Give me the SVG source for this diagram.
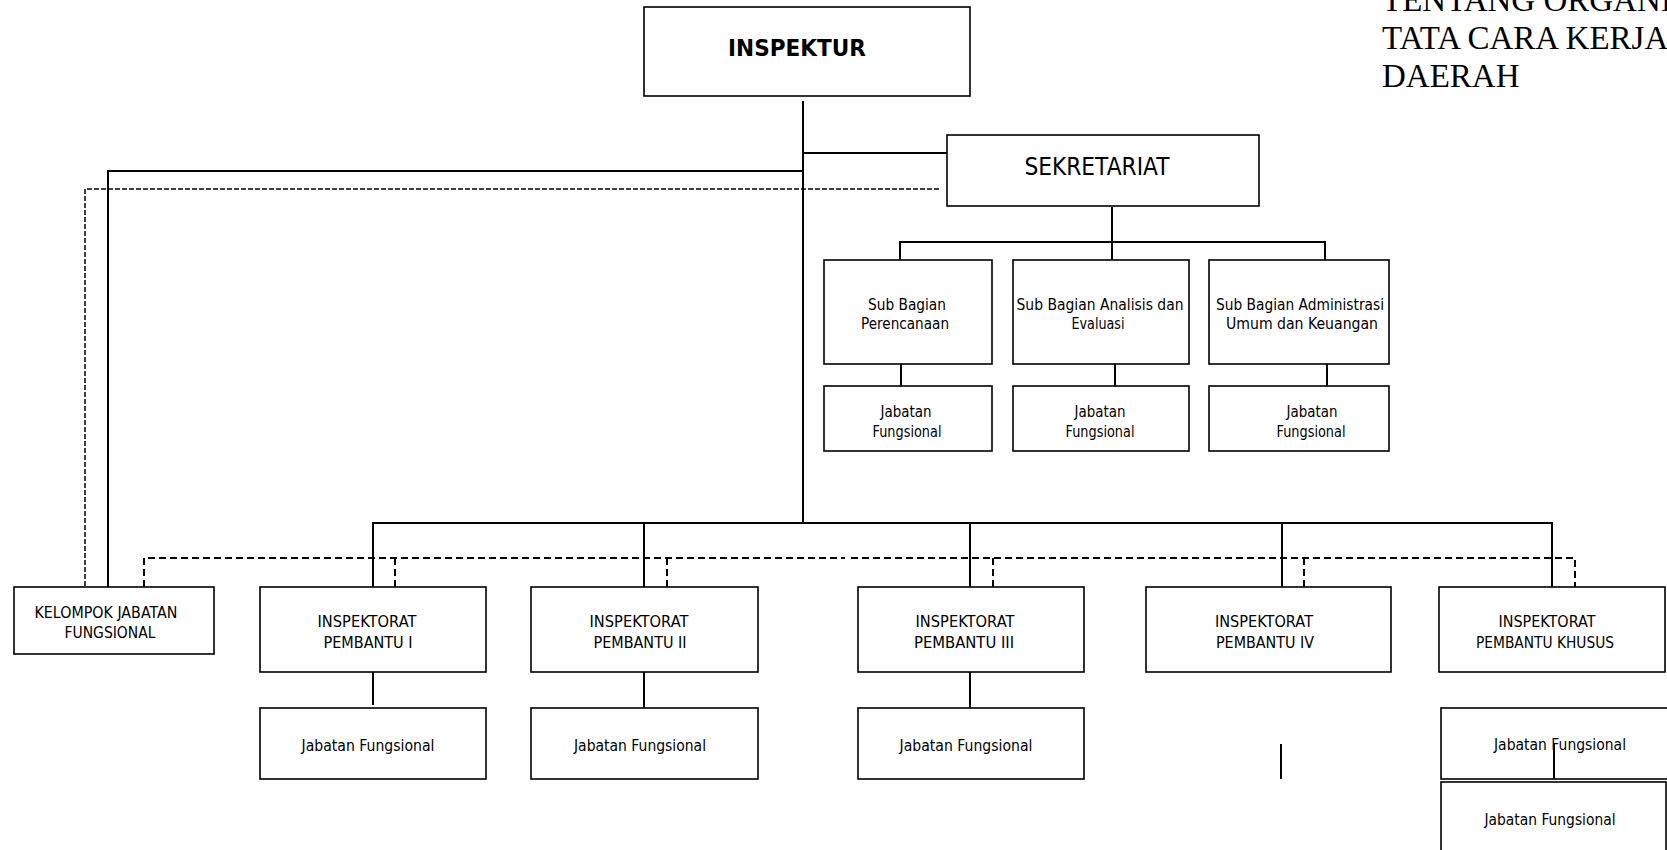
<svg xmlns="http://www.w3.org/2000/svg" width="1667" height="850" viewBox="0 0 1667 850">
<style>
.bx{fill:#fff;stroke:#000;stroke-width:1.6}
.ln{stroke:#000;stroke-width:2;fill:none}
.dl{stroke:#000;stroke-width:2;stroke-dasharray:7 4;fill:none}
.dt{stroke:#000;stroke-width:1.5;stroke-dasharray:5 2;fill:none}
.t{font-family:"DejaVu Sans",sans-serif;font-size:16px;fill:#000;text-anchor:middle}
.big{font-size:24px}
.bold{font-size:23px;font-weight:bold}
.title{font-family:"Liberation Serif",serif;font-size:33px;fill:#000}
</style>
<rect width="1667" height="850" fill="#fff"/>
<g id="title">
<text class="title" x="1382" y="11">TENTANG ORGANI</text>
<text class="title" x="1382" y="49">TATA CARA KERJA</text>
<text class="title" x="1382" y="87">DAERAH</text>
</g>
<g id="connectors">
<polyline class="ln" points="803,101 803,523"/>
<polyline class="ln" points="803,153 947,153"/>
<polyline class="ln" points="803,171 108,171 108,587"/>
<polyline class="dt" points="939,189 85,189 85,587"/>
<polyline class="ln" points="1112,207 1112,242"/>
<polyline class="ln" points="900,260 900,242 1325,242 1325,260"/>
<polyline class="ln" points="1112,242 1112,260"/>
<polyline class="ln" points="901,364 901,386"/>
<polyline class="ln" points="1115,364 1115,386"/>
<polyline class="ln" points="1327,364 1327,386"/>
<polyline class="ln" points="373,587 373,523 1552,523 1552,587"/>
<polyline class="ln" points="644,523 644,587"/>
<polyline class="ln" points="970,523 970,587"/>
<polyline class="ln" points="1282,523 1282,587"/>
<polyline class="dl" points="144,587 144,558 845,558"/>
<polyline class="dl" points="851,558 1575,558 1575,587"/>
<polyline class="dl" points="395,558 395,587"/>
<polyline class="dl" points="667,558 667,587"/>
<polyline class="dl" points="993,558 993,587"/>
<polyline class="dl" points="1304,558 1304,587"/>
<polyline class="ln" points="373,672 373,705"/>
<polyline class="ln" points="644,672 644,708"/>
<polyline class="ln" points="970,672 970,708"/>
<polyline class="ln" points="1281,744 1281,779"/>
</g>
<g id="inspektur">
<rect class="bx" x="644" y="7" width="326" height="89"/>
<text class="t bold" x="797" y="56" textLength="138" lengthAdjust="spacingAndGlyphs">INSPEKTUR</text>
</g>
<g id="sekretariat">
<rect class="bx" x="947" y="135" width="312" height="71"/>
<text class="t big" x="1097" y="175" textLength="145" lengthAdjust="spacingAndGlyphs">SEKRETARIAT</text>
</g>
<g id="sub-perencanaan">
<rect class="bx" x="824" y="260" width="168" height="104"/>
<text class="t" x="907" y="310" textLength="78" lengthAdjust="spacingAndGlyphs">Sub Bagian</text>
<text class="t" x="905" y="329" textLength="88" lengthAdjust="spacingAndGlyphs">Perencanaan</text>
</g>
<g id="sub-analisis">
<rect class="bx" x="1013" y="260" width="176" height="104"/>
<text class="t" x="1100" y="310" textLength="167" lengthAdjust="spacingAndGlyphs">Sub Bagian Analisis dan</text>
<text class="t" x="1098" y="329" textLength="53" lengthAdjust="spacingAndGlyphs">Evaluasi</text>
</g>
<g id="sub-administrasi">
<rect class="bx" x="1209" y="260" width="180" height="104"/>
<text class="t" x="1300" y="310" textLength="168" lengthAdjust="spacingAndGlyphs">Sub Bagian Administrasi</text>
<text class="t" x="1302" y="329" textLength="152" lengthAdjust="spacingAndGlyphs">Umum dan Keuangan</text>
</g>
<g id="jf-perencanaan">
<rect class="bx" x="824" y="386" width="168" height="65"/>
<text class="t" x="906" y="417" textLength="51" lengthAdjust="spacingAndGlyphs">Jabatan</text>
<text class="t" x="907" y="437" textLength="69" lengthAdjust="spacingAndGlyphs">Fungsional</text>
</g>
<g id="jf-analisis">
<rect class="bx" x="1013" y="386" width="176" height="65"/>
<text class="t" x="1100" y="417" textLength="51" lengthAdjust="spacingAndGlyphs">Jabatan</text>
<text class="t" x="1100" y="437" textLength="69" lengthAdjust="spacingAndGlyphs">Fungsional</text>
</g>
<g id="jf-administrasi">
<rect class="bx" x="1209" y="386" width="180" height="65"/>
<text class="t" x="1312" y="417" textLength="51" lengthAdjust="spacingAndGlyphs">Jabatan</text>
<text class="t" x="1311" y="437" textLength="69" lengthAdjust="spacingAndGlyphs">Fungsional</text>
</g>
<g id="kelompok">
<rect class="bx" x="14" y="587" width="200" height="67"/>
<text class="t" x="106" y="618" textLength="143" lengthAdjust="spacingAndGlyphs">KELOMPOK JABATAN</text>
<text class="t" x="110" y="638" textLength="91" lengthAdjust="spacingAndGlyphs">FUNGSIONAL</text>
</g>
<g id="pembantu-1">
<rect class="bx" x="260" y="587" width="226" height="85"/>
<text class="t" x="367" y="627" textLength="99" lengthAdjust="spacingAndGlyphs">INSPEKTORAT</text>
<text class="t" x="368" y="648" textLength="89" lengthAdjust="spacingAndGlyphs">PEMBANTU I</text>
</g>
<g id="pembantu-2">
<rect class="bx" x="531" y="587" width="227" height="85"/>
<text class="t" x="639" y="627" textLength="99" lengthAdjust="spacingAndGlyphs">INSPEKTORAT</text>
<text class="t" x="640" y="648" textLength="93" lengthAdjust="spacingAndGlyphs">PEMBANTU II</text>
</g>
<g id="pembantu-3">
<rect class="bx" x="858" y="587" width="226" height="85"/>
<text class="t" x="965" y="627" textLength="99" lengthAdjust="spacingAndGlyphs">INSPEKTORAT</text>
<text class="t" x="964" y="648" textLength="100" lengthAdjust="spacingAndGlyphs">PEMBANTU III</text>
</g>
<g id="pembantu-4">
<rect class="bx" x="1146" y="587" width="245" height="85"/>
<text class="t" x="1264" y="627" textLength="98" lengthAdjust="spacingAndGlyphs">INSPEKTORAT</text>
<text class="t" x="1265" y="648" textLength="98" lengthAdjust="spacingAndGlyphs">PEMBANTU IV</text>
</g>
<g id="pembantu-khusus">
<rect class="bx" x="1439" y="587" width="226" height="85"/>
<text class="t" x="1547" y="627" textLength="97" lengthAdjust="spacingAndGlyphs">INSPEKTORAT</text>
<text class="t" x="1545" y="648" textLength="138" lengthAdjust="spacingAndGlyphs">PEMBANTU KHUSUS</text>
</g>
<g id="jf-1">
<rect class="bx" x="260" y="708" width="226" height="71"/>
<text class="t" x="368" y="751" textLength="133" lengthAdjust="spacingAndGlyphs">Jabatan Fungsional</text>
</g>
<g id="jf-2">
<rect class="bx" x="531" y="708" width="227" height="71"/>
<text class="t" x="640" y="751" textLength="132" lengthAdjust="spacingAndGlyphs">Jabatan Fungsional</text>
</g>
<g id="jf-3">
<rect class="bx" x="858" y="708" width="226" height="71"/>
<text class="t" x="966" y="751" textLength="133" lengthAdjust="spacingAndGlyphs">Jabatan Fungsional</text>
</g>
<g id="jf-khusus-1">
<rect class="bx" x="1441" y="708" width="240" height="71"/>
<text class="t" x="1560" y="750" textLength="132" lengthAdjust="spacingAndGlyphs">Jabatan Fungsional</text>
</g>
<g id="jf-khusus-2">
<rect class="bx" x="1441" y="782" width="225" height="80"/>
<text class="t" x="1550" y="825" textLength="131" lengthAdjust="spacingAndGlyphs">Jabatan Fungsional</text>
</g>
<g id="connectors-top">
<polyline class="ln" points="1554,743 1554,779"/>
</g>
</svg>
